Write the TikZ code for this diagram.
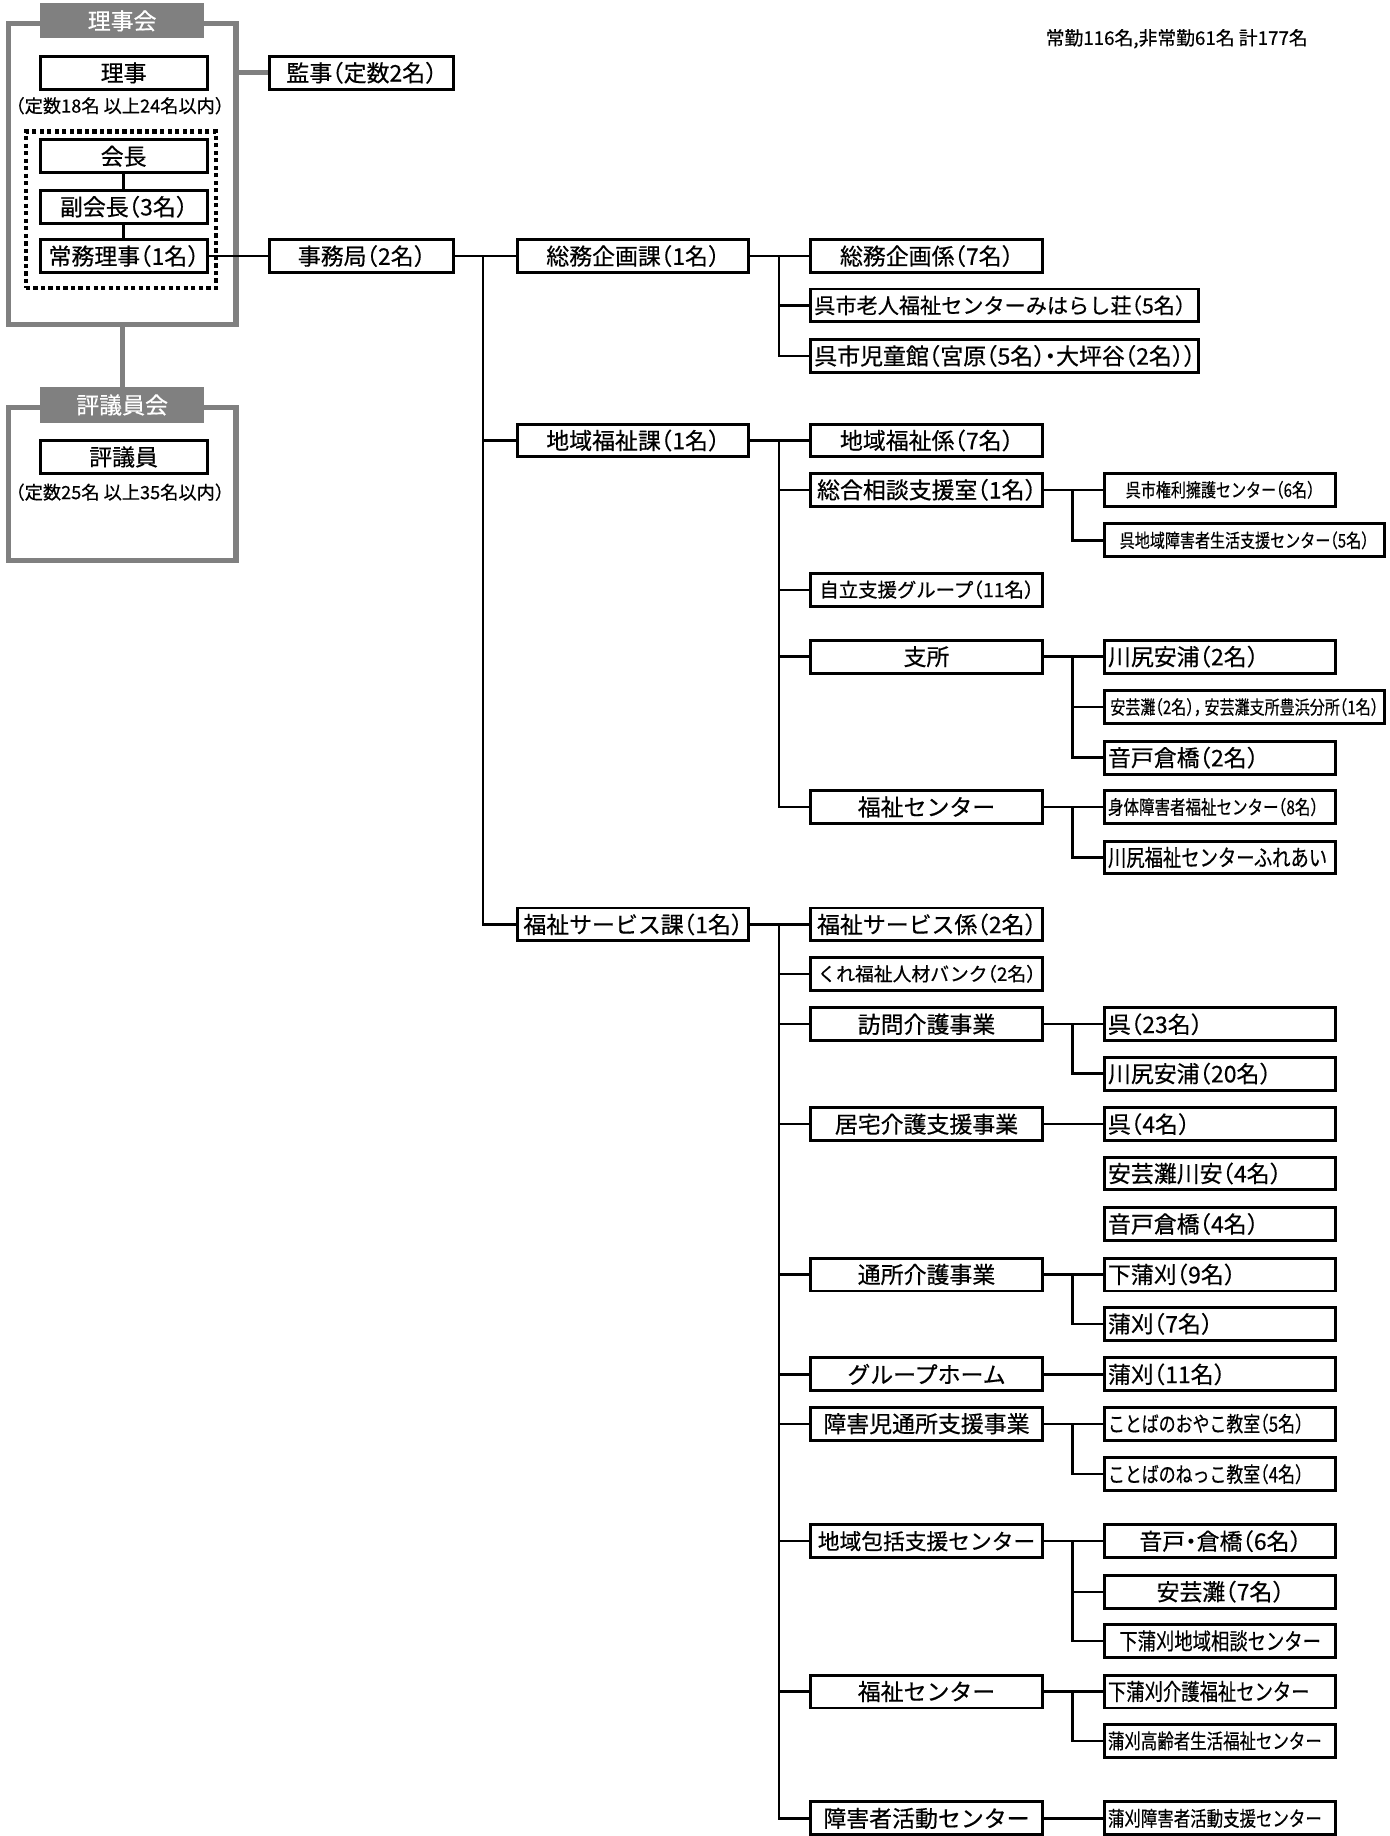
\documentclass[tikz,border=0pt]{standalone}
\usepackage{fontspec}
\setmainfont{Noto Sans CJK JP}[RawFeature=+halt,FakeBold=0.5]
\newfontfamily\nrw{Noto Sans CJK JP}[FakeStretch=0.8,RawFeature=+halt,FakeBold=0.4]
\begin{document}
\begin{tikzpicture}[x=1pt,y=-1pt,
  post/.style={draw,line width=2.5pt,anchor=west,minimum height=28pt,inner xsep=3pt,inner ysep=0pt,align=center,font=\fontsize{19.5}{22}\selectfont},
  postA/.style={post,text width=136pt},
  postB/.style={post,text width=151pt},
  postC/.style={post,text width=191pt},
  postD/.style={post,text width=324pt},
  postE/.style={post,text width=232pt},
  lft/.style={align=left},
  fz/.style={font=\fontsize{#1}{#1}\selectfont},
  nz/.style={font=\nrw\fontsize{#1}{#1}\selectfont},
  board/.style={draw=gray,line width=4.5pt,inner sep=0pt,minimum width=194pt},
  tab/.style={fill=gray,text=white,minimum width=140pt,minimum height=30pt,inner sep=0pt,font=\fontsize{19.5}{22}\selectfont},
  link/.style={line width=2pt},
  glink/.style={draw=gray,line width=4.5pt}]
\def\xA{33}
\def\xB{228}
\def\xC{439}
\def\xD{689}
\def\xE{939}
\useasboundingbox (0,0) rectangle (1183,1563);
\coordinate (kA) at (411,0);
\coordinate (kB) at (663,0);
\coordinate (kC) at (913,0);

\node[fz=16,anchor=west,inner sep=0pt] (total) at (890,33) {常勤116名,非常勤61名 計177名};

% 理事会
\node[board,minimum height=256pt] (rjb) at (104,148) {};
\node[tab] (rjk) at (rjb.north) {理事会};
\node[postA] (riji) at (\xA,62) {理事};
\node[fz=15.5] (rjn) at (102,90) {（定数18名 以上24名以内）};
\node[draw,line width=3.6pt,dash pattern=on 3.6pt off 2.8pt,minimum width=162pt,minimum height=133pt] (exec) at (103,178.5) {};
\node[postA] (kai) at (\xA,133) {会長};
\node[postA] (fuku) at (\xA,176) {副会長（3名）};
\node[postA] (jomu) at (\xA,218) {常務理事（1名）};
\draw[link] (kai) -- (fuku) (fuku) -- (jomu);

% 評議員会
\node[board,minimum height=130pt] (hgb) at (104,412) {};
\node[tab] (hgk) at (hgb.north) {評議員会};
\node[postA] (hgi) at (\xA,389) {評議員};
\node[fz=15.5] (hgn) at (102,419) {（定数25名 以上35名以内）};
\draw[glink] (rjb.south) -- (hgb.north);

\node[postB] (kanji) at (\xB,62) {監事（定数2名）};
\draw[glink] (rjb.east |- kanji.west) -- (kanji.west);
\node[postB] (jimu) at (\xB,218) {事務局（2名）};
\draw[link] (jomu) -- (jimu);

% 課
\node[postC] (somu) at (\xC,218) {総務企画課（1名）};
\node[postC] (chiki) at (\xC,375) {地域福祉課（1名）};
\node[postC] (fsv) at (\xC,787) {福祉サービス課（1名）};
\foreach \n in {somu,chiki,fsv}
  \draw[link] (jimu.east) -- (jimu.east -| kA) |- (\n.west);

% 総務企画課
\node[postC] (s1) at (\xD,218) {総務企画係（7名）};
\node[postD,lft,fz=18] (s2) at (\xD,260) {呉市老人福祉センターみはらし荘（5名）};
\node[postD,lft] (s3) at (\xD,303) {呉市児童館（宮原（5名）・大坪谷（2名））};
\foreach \n in {s1,s2,s3}
  \draw[link] (somu.east) -- (somu.east -| kB) |- (\n.west);

% 地域福祉課
\node[postC] (c1) at (\xD,375) {地域福祉係（7名）};
\node[postC] (c2) at (\xD,417) {総合相談支援室（1名）};
\node[postC,fz=16.5] (c3) at (\xD,502) {自立支援グループ（11名）};
\node[postC] (c4) at (\xD,559) {支所};
\node[postC] (c5) at (\xD,687) {福祉センター};
\foreach \n in {c1,c2,c3,c4,c5}
  \draw[link] (chiki.east) -- (chiki.east -| kB) |- (\n.west);

\node[postC,nz=16] (c21) at (\xE,417) {呉市権利擁護センター（6名）};
\node[postE,nz=16] (c22) at (\xE,460) {呉地域障害者生活支援センター（5名）};
\foreach \n in {c21,c22}
  \draw[link] (c2.east) -- (c2.east -| kC) |- (\n.west);

\node[postC,lft] (c41) at (\xE,559) {川尻安浦（2名）};
\node[postE,nz=16] (c42) at (\xE,602) {安芸灘（2名），\,安芸灘支所豊浜分所（1名）};
\node[postC,lft] (c43) at (\xE,645) {音戸倉橋（2名）};
\foreach \n in {c41,c42,c43}
  \draw[link] (c4.east) -- (c4.east -| kC) |- (\n.west);

\node[postC,lft,nz=16.5] (c51) at (\xE,687) {身体障害者福祉センター（8名）};
\node[postC,lft,nz=19.5] (c52) at (\xE,730) {川尻福祉センターふれあい};
\foreach \n in {c51,c52}
  \draw[link] (c5.east) -- (c5.east -| kC) |- (\n.west);

% 福祉サービス課
\node[postC] (f1) at (\xD,787) {福祉サービス係（2名）};
\node[postC,fz=16] (f2) at (\xD,829) {くれ福祉人材バンク（2名）};
\node[postC] (f3) at (\xD,872) {訪問介護事業};
\node[postC] (f4) at (\xD,957) {居宅介護支援事業};
\node[postC] (f5) at (\xD,1085) {通所介護事業};
\node[postC] (f6) at (\xD,1170) {グループホーム};
\node[postC] (f7) at (\xD,1212) {障害児通所支援事業};
\node[postC,fz=18.5] (f8) at (\xD,1312) {地域包括支援センター};
\node[postC] (f9) at (\xD,1440) {福祉センター};
\node[postC] (f10) at (\xD,1548) {障害者活動センター};
\foreach \n in {f1,f2,f3,f4,f5,f6,f7,f8,f9,f10}
  \draw[link] (fsv.east) -- (fsv.east -| kB) |- (\n.west);

\node[postC,lft] (f31) at (\xE,872) {呉（23名）};
\node[postC,lft] (f32) at (\xE,914) {川尻安浦（20名）};
\foreach \n in {f31,f32}
  \draw[link] (f3.east) -- (f3.east -| kC) |- (\n.west);

\node[postC,lft] (f41) at (\xE,957) {呉（4名）};
\node[postC,lft] (f42) at (\xE,999) {安芸灘川安（4名）};
\node[postC,lft] (f43) at (\xE,1042) {音戸倉橋（4名）};
\draw[link] (f4) -- (f41);

\node[postC,lft] (f51) at (\xE,1085) {下蒲刈（9名）};
\node[postC,lft] (f52) at (\xE,1127) {蒲刈（7名）};
\foreach \n in {f51,f52}
  \draw[link] (f5.east) -- (f5.east -| kC) |- (\n.west);

\node[postC,lft] (f61) at (\xE,1170) {蒲刈（11名）};
\draw[link] (f6) -- (f61);

\node[postC,lft,nz=18] (f71) at (\xE,1212) {ことばのおやこ教室（5名）};
\node[postC,lft,nz=18] (f72) at (\xE,1255) {ことばのねっこ教室（4名）};
\foreach \n in {f71,f72}
  \draw[link] (f7.east) -- (f7.east -| kC) |- (\n.west);

\node[postC] (f81) at (\xE,1312) {音戸・倉橋（6名）};
\node[postC] (f82) at (\xE,1355) {安芸灘（7名）};
\node[postC,nz=19.5] (f83) at (\xE,1397) {下蒲刈地域相談センター};
\foreach \n in {f81,f82,f83}
  \draw[link] (f8.east) -- (f8.east -| kC) |- (\n.west);

\node[postC,lft,nz=19.5] (f91) at (\xE,1440) {下蒲刈介護福祉センター};
\node[postC,lft,nz=17.5] (f92) at (\xE,1482) {蒲刈高齢者生活福祉センター};
\foreach \n in {f91,f92}
  \draw[link] (f9.east) -- (f9.east -| kC) |- (\n.west);

\node[postC,lft,nz=17.5] (f101) at (\xE,1548) {蒲刈障害者活動支援センター};
\draw[link] (f10) -- (f101);
\end{tikzpicture}
\end{document}
